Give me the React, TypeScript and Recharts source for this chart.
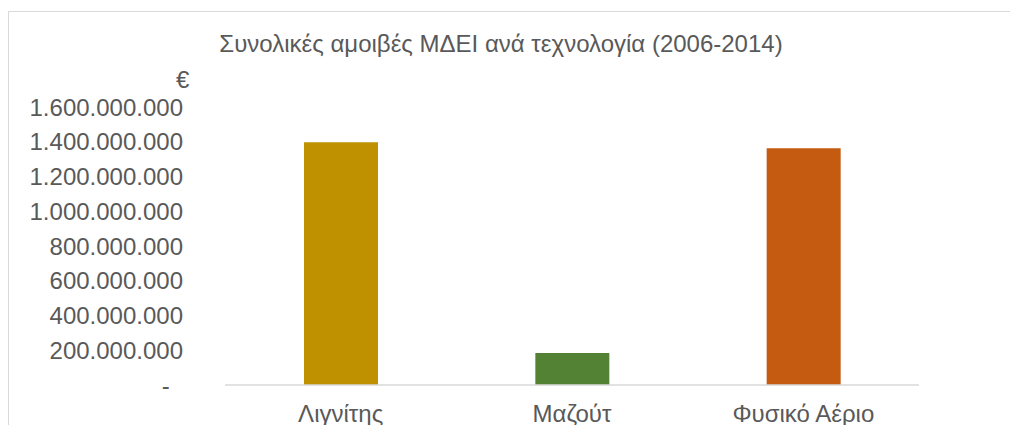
import { BarChart, Bar, Cell, XAxis, YAxis, CartesianGrid } from 'recharts'

const categories = ['Λιγνίτης', 'Μαζούτ', 'Φυσικό Αέριο']
const amounts = [1397000000, 184000000, 1362000000]
const barColors = ['#bf9000', '#548235', '#c55a11']
const yTicks = [0, 200000000, 400000000, 600000000, 800000000, 1000000000, 1200000000, 1400000000, 1600000000]

const data = categories.map((name, i) => ({ name, value: amounts[i] }))

const FONT = '"Liberation Sans", Arial, sans-serif'
const TEXT = '#595959'

const fmt = (v: number) =>
  v === 0 ? '-\u00A0\u00A0' : String(v).replace(/\B(?=(\d{3})+(?!\d))/g, '.')

export default function App() {
  return (
    <div style={{ position: 'absolute', left: 0, top: 0, width: 1010, height: 425, overflow: 'hidden', background: '#fff', fontFamily: FONT }}>
      <div style={{ position: 'absolute', left: 8, top: 11, width: 1100, height: 600, border: '1px solid #d9d9d9' }} />
      <div style={{ position: 'absolute', left: 0, top: 30, width: 1002, textAlign: 'center', fontSize: 24, color: TEXT }}>
        Συνολικές αμοιβές ΜΔΕΙ ανά τεχνολογία (2006-2014)
      </div>
      <div style={{ position: 'absolute', left: 176, top: 66, fontSize: 24, color: TEXT }}>€</div>
      <div style={{ position: 'absolute', left: 0, top: 0 }}>
        <BarChart width={1010} height={425} data={data} margin={{ top: 107, right: 91, bottom: 10, left: 30 }}>
          <CartesianGrid horizontal={false} vertical={false} />
          <XAxis
            dataKey="name"
            height={30}
            axisLine={{ stroke: '#d9d9d9', strokeWidth: 1.5 }}
            tickLine={false}
            tickSize={0}
            tickMargin={20}
            tick={{ fill: TEXT, fontSize: 24, fontFamily: FONT }}
            interval={0}
          />
          <YAxis
            width={195}
            domain={[0, 1600000000]}
            ticks={yTicks}
            tickFormatter={fmt}
            axisLine={false}
            tickLine={false}
            tickSize={0}
            tickMargin={42}
            tick={{ fill: TEXT, fontSize: 24, fontFamily: FONT }}
            interval={0}
          />
          <Bar dataKey="value" barSize={74} isAnimationActive={false}>
            {data.map((_, i) => (
              <Cell key={`c-${i}`} fill={barColors[i]} />
            ))}
          </Bar>
        </BarChart>
      </div>
    </div>
  )
}
